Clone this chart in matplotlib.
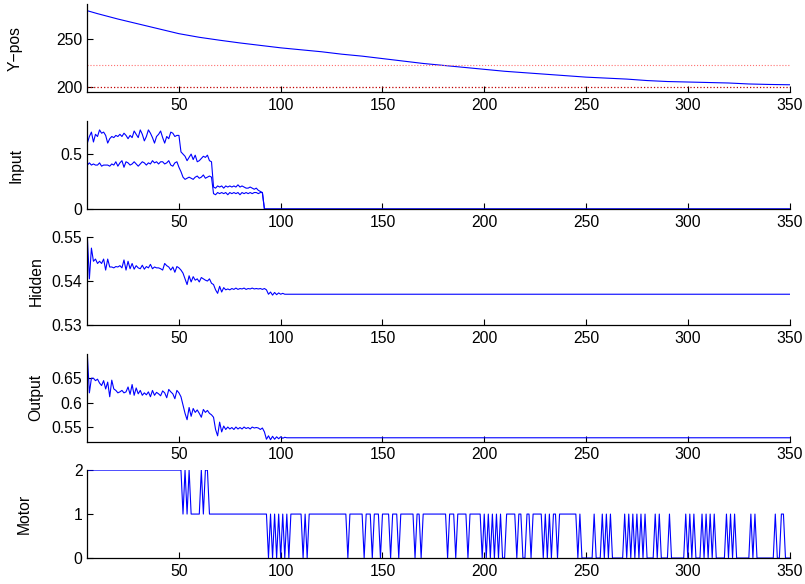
import matplotlib
matplotlib.use("Agg")
import matplotlib.pyplot as plt
from matplotlib.ticker import FuncFormatter

plt.rcParams['font.family'] = ['Liberation Sans', 'DejaVu Sans']
plt.rcParams['font.size'] = 11.3

# ---- data ----
steps = list(range(5, 351))

ypos_x = [5, 10, 20, 30, 40, 50, 60, 70, 80, 90, 100, 110, 120, 130, 140, 150, 160, 170,
          180, 190, 200, 210, 220, 230, 240, 250, 260, 270, 280, 290, 300, 310, 320, 330, 340, 350]
ypos_y = [278.5, 275.5, 270, 265, 260, 255, 251.3, 248.3, 245.5, 243, 240.5, 238.5, 236.5, 234,
          232, 229.5, 227, 224.5, 222.5, 220.5, 218.5, 216.5, 215, 213.5, 212, 210.5, 209.5,
          208.5, 207, 206, 205.5, 205, 204.5, 203.5, 203, 202.7]
ref_levels = [222.8, 200]

# input units, steps 5..92, afterwards zero
input_a = [0.60, 0.66, 0.70, 0.61, 0.68, 0.66, 0.72, 0.69, 0.70, 0.67,
           0.60, 0.64, 0.66, 0.65, 0.67, 0.66, 0.68, 0.66, 0.69, 0.67,
           0.64, 0.67, 0.65, 0.71, 0.68, 0.65, 0.72, 0.68, 0.62, 0.66,
           0.72, 0.69, 0.65, 0.60, 0.66, 0.68, 0.71, 0.65, 0.60, 0.66,
           0.64, 0.70, 0.69, 0.66, 0.67, 0.67, 0.52, 0.50, 0.48, 0.44,
           0.47, 0.50, 0.45, 0.49, 0.43, 0.44, 0.46, 0.48, 0.47, 0.49,
           0.44, 0.43, 0.20, 0.19, 0.21, 0.20, 0.21, 0.19, 0.21, 0.20,
           0.21, 0.20, 0.21, 0.20, 0.22, 0.20, 0.21, 0.20, 0.19, 0.19,
           0.20, 0.19, 0.18, 0.19, 0.17, 0.16, 0.15, 0.00]
input_b = [0.40, 0.42, 0.40, 0.41, 0.40, 0.40, 0.42, 0.39, 0.40, 0.40,
           0.40, 0.39, 0.41, 0.40, 0.43, 0.39, 0.42, 0.44, 0.38, 0.43,
           0.42, 0.40, 0.41, 0.43, 0.41, 0.39, 0.41, 0.43, 0.42, 0.40,
           0.42, 0.41, 0.44, 0.42, 0.43, 0.41, 0.43, 0.43, 0.41, 0.42,
           0.44, 0.40, 0.39, 0.42, 0.43, 0.38, 0.34, 0.29, 0.27, 0.28,
           0.29, 0.28, 0.27, 0.29, 0.30, 0.28, 0.29, 0.31, 0.28, 0.29,
           0.30, 0.29, 0.14, 0.13, 0.15, 0.14, 0.15, 0.14, 0.15, 0.13,
           0.15, 0.14, 0.15, 0.14, 0.15, 0.13, 0.15, 0.14, 0.15, 0.14,
           0.15, 0.14, 0.15, 0.15, 0.14, 0.15, 0.15, 0.00]
input_tail = [0.0] * 258

# hidden unit, steps 5..102, afterwards flat
hidden = [0.5500, 0.5405, 0.5475, 0.5445, 0.5450, 0.5440, 0.5445, 0.5440, 0.5450, 0.5425,
          0.5450, 0.5432, 0.5432, 0.5430, 0.5433, 0.5432, 0.5435, 0.5430, 0.5448, 0.5425,
          0.5445, 0.5428, 0.5440, 0.5427, 0.5435, 0.5430, 0.5428, 0.5436, 0.5427, 0.5433,
          0.5430, 0.5438, 0.5428, 0.5432, 0.5430, 0.5430, 0.5428, 0.5425, 0.5440, 0.5435,
          0.5432, 0.5425, 0.5432, 0.5420, 0.5433, 0.5430, 0.5425, 0.5418, 0.5405, 0.5392,
          0.5412, 0.5398, 0.5410, 0.5402, 0.5405, 0.5398, 0.5408, 0.5405, 0.5402, 0.5400,
          0.5405, 0.5395, 0.5392, 0.5380, 0.5372, 0.5388, 0.5375, 0.5385, 0.5380, 0.5382,
          0.5380, 0.5383, 0.5381, 0.5384, 0.5381, 0.5383, 0.5382, 0.5384, 0.5381, 0.5383,
          0.5382, 0.5384, 0.5382, 0.5383, 0.5382, 0.5383, 0.5381, 0.5383, 0.5380, 0.5370,
          0.5375, 0.5368, 0.5374, 0.5369, 0.5373, 0.5370, 0.5372, 0.5370]
hidden_tail = [0.5370] * 248

# output unit, steps 5..102, afterwards flat
output = [0.698, 0.620, 0.650, 0.650, 0.645, 0.648, 0.640, 0.635, 0.645, 0.628,
          0.642, 0.612, 0.646, 0.628, 0.625, 0.620, 0.622, 0.625, 0.620, 0.622,
          0.632, 0.617, 0.637, 0.615, 0.630, 0.618, 0.625, 0.615, 0.620, 0.616,
          0.622, 0.612, 0.625, 0.615, 0.621, 0.618, 0.614, 0.624, 0.620, 0.610,
          0.627, 0.622, 0.618, 0.608, 0.625, 0.620, 0.612, 0.595, 0.578, 0.565,
          0.590, 0.572, 0.588, 0.580, 0.585, 0.578, 0.570, 0.586, 0.580, 0.584,
          0.578, 0.575, 0.570, 0.545, 0.532, 0.560, 0.540, 0.552, 0.545, 0.550,
          0.546, 0.549, 0.545, 0.550, 0.546, 0.549, 0.546, 0.550, 0.547, 0.549,
          0.546, 0.550, 0.548, 0.549, 0.548, 0.545, 0.548, 0.540, 0.525, 0.532,
          0.524, 0.531, 0.525, 0.530, 0.526, 0.530, 0.527, 0.529]
output_tail = [0.528] * 248

# motor command per step 5..350 (10 steps per block)
motor_str = ("2222222222" "2222222222" "2222222222" "2222222222" "2222222121"
             "2111112122" "1111111111" "1111111111" "1111111110" "1010101010"
             "1111110101" "1111111111" "1111111101" "1111110111" "0111011110"
             "1110111111" "1011011111" "1111111011" "1011111011" "1111010101"
             "0101001111" "1011001101" "1111010101" "1011111111" "1010000001"
             "0001010100" "0000101010" "1010100001" "0100001000" "0000101010"
             "0010101010" "0000101010" "0000001010" "0000000010" "011000")
motor = [int(c) for c in motor_str]

panels = ["Y\u2212pos", "Input", "Hidden", "Output", "Motor"]
ylims = [(195, 285), (0, 0.8), (0.53, 0.55), (0.52, 0.70), (0, 2)]
yticks = [[200, 250], [0, 0.5], [0.53, 0.54, 0.55], [0.55, 0.6, 0.65], [0, 1, 2]]
label_x = [-0.092, -0.091, -0.062, -0.063, -0.079]

fig = plt.figure(figsize=(8.05, 5.84), dpi=100)
bottoms = [0.8420, 0.6421, 0.4435, 0.2437, 0.0445]
axes = [fig.add_axes([0.1085, b, 0.8723, 0.1505]) for b in bottoms]

blue = (0, 0, 1)
axes[0].plot(ypos_x, ypos_y, color=blue, lw=0.8)
axes[0].axhline(ref_levels[0], color='#ff7070', ls=':', lw=0.8)
axes[0].axhline(ref_levels[1], color='#c00000', ls=':', lw=0.9)

axes[1].plot(steps, input_a + input_tail, color=blue, lw=0.8)
axes[1].plot(steps, input_b + input_tail, color=blue, lw=0.8)
axes[2].plot(steps, hidden + hidden_tail, color=blue, lw=0.8)
axes[3].plot(steps, output + output_tail, color=blue, lw=0.8)
axes[4].plot(steps, motor, color=blue, lw=0.8)

for ax, name, yl, yt, lx in zip(axes, panels, ylims, yticks, label_x):
    ax.set_xlim(5, 350)
    ax.set_ylim(*yl)
    ax.set_xticks([50, 100, 150, 200, 250, 300, 350])
    ax.set_yticks(yt)
    ax.yaxis.set_major_formatter(FuncFormatter(lambda v, p: f"{v:g}"))
    ax.spines['top'].set_visible(False)
    ax.spines['right'].set_visible(False)
    ax.spines['left'].set_linewidth(0.9)
    ax.spines['bottom'].set_linewidth(0.9)
    ax.tick_params(direction='in', length=4.5, width=0.8, labelsize=11.3)
    ax.tick_params(axis='x', pad=4)
    ax.tick_params(axis='y', pad=3.5)
    ax.set_ylabel(name, fontsize=11.3)
    ax.yaxis.set_label_coords(lx, 0.5)
    ax.patch.set_alpha(0)

fig.savefig("out.png", dpi=100)
